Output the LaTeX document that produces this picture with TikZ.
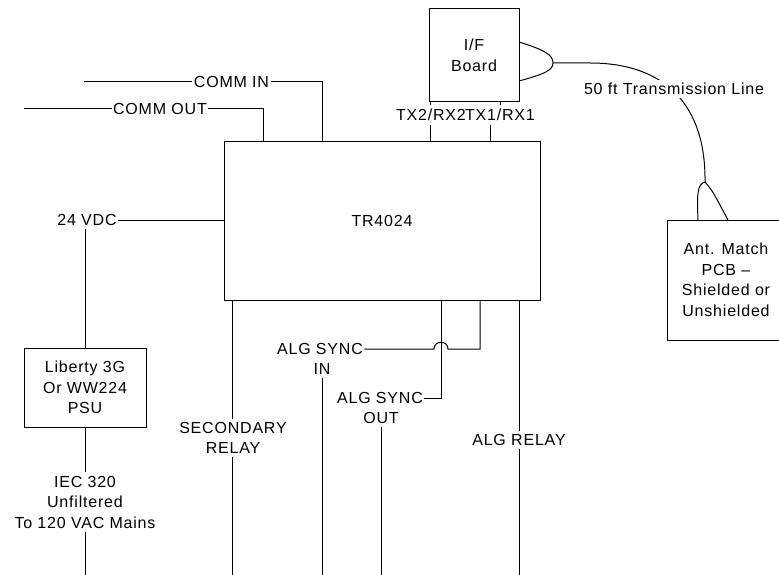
\documentclass[tikz,border=0pt]{standalone}
\usepackage{fontspec}
\setmainfont[LetterSpace=5]{Liberation Sans}
\usetikzlibrary{positioning}

\begin{document}
\begin{tikzpicture}[x=1pt,y=-1pt,line width=1pt,
  font=\fontsize{16}{20.5}\selectfont,
  blk/.style={draw,inner sep=0pt,align=center},
  lbl/.style={inner xsep=1pt,inner ysep=3pt,align=center}]
  \clip (0,0) rectangle (779,575);
  \fill[white] (0,0) rectangle (779,575);
  % --- boxes ---
  \node[blk,minimum width=316pt,minimum height=158pt] (tr) at (382,221) {TR4024};
  \node[blk,minimum width=90pt,minimum height=93pt] (ifb) at (474,55.5) {I/F\\Board};
  \node[blk,minimum width=122pt,minimum height=79pt] (psu) at (85,387.5) {Liberty 3G\\Or WW224\\PSU};
  \node[blk,minimum width=118pt,minimum height=120pt] (ant) at (726,280) {Ant. Match\\PCB --\\Shielded or\\Unshielded};
  % --- comm in / out ---
  \coordinate (cin-end) at (84,82);
  \coordinate (cout-end) at (24,109);
  \coordinate (tr-cin) at (322,142);
  \coordinate (tr-cout) at (263,142);
  \node[lbl] (cin) at (231.5,82) {COMM IN};
  \node[lbl] (cout) at (160,109) {COMM OUT};
  \draw (cin-end) -- (cin.west);
  \draw (cin.east) -| (tr-cin);
  \draw (cout-end) -- (cout.west);
  \draw (cout.east) -| (tr-cout);
  % --- supply ---
  \node[lbl] (vdc) at (87,220) {24 VDC};
  \draw (vdc.east) -- (vdc.east -| tr.west);
  \draw (psu.north) -- (psu.north |- vdc.south);
  \node[lbl] (iec) at (85,502) {IEC 320\\Unfiltered\\To 120 VAC Mains};
  \coordinate (mains) at (85,575);
  \draw (psu.south) -- (iec.north);
  \draw (iec.south) -- (mains);
  % --- TX/RX ports ---
  \node[lbl,inner xsep=0pt,inner ysep=4pt] (tx2) at (431,115) {TX2/RX2};
  \node[lbl,inner xsep=0pt,inner ysep=4pt] (tx1) at (500,115) {TX1/RX1};
  \coordinate (ifb-p2) at (430,102);
  \coordinate (ifb-p1) at (500,102);
  \coordinate (tr-p2) at (430,142);
  \coordinate (tr-p1) at (490,142);
  \draw (ifb-p2) -- (ifb-p2 |- tx2.north);
  \draw (ifb-p1) -- (ifb-p1 |- tx1.north);
  \draw (tr-p2 |- tx2.south) -- (tr-p2);
  \draw (tr-p1 |- tx1.south) -- (tr-p1);
  % --- transmission line ---
  \coordinate (ifb-hi) at (519,42);
  \coordinate (ifb-lo) at (519,81);
  \coordinate (tl-j) at (553,63);
  \coordinate (tl-s) at (590,63);
  \coordinate (ant-j) at (705,182);
  \coordinate (ant-l) at (698,220);
  \coordinate (ant-r) at (728,220);
  \draw (ifb-hi) .. controls (545,50) and (553,55) .. (tl-j);
  \draw (ifb-lo) .. controls (545,74) and (553,70) .. (tl-j);
  \draw (tl-j) -- (tl-s) .. controls (665,63) and (706,105) .. (ant-j);
  \draw (ant-j) .. controls (697,184) and (697,195) .. (ant-l);
  \draw (ant-j) .. controls (712,190) .. (ant-r);
  \node[lbl,fill=white] (tl) at (674,89) {50 ft Transmission Line};
  % --- relays and sync ---
  \coordinate (tr-sec) at (232,300);
  \coordinate (sec-end) at (232,575);
  \node[lbl] (sec) at (233,438) {SECONDARY\\RELAY};
  \draw (tr-sec) -- (tr-sec |- sec.north);
  \draw (sec-end |- sec.south) -- (sec-end);
  \coordinate (tr-asi) at (480,300);
  \coordinate (hop-a) at (434,349);
  \coordinate (hop-b) at (448,349);
  \coordinate (asi-end) at (322,575);
  \node[lbl] (asi) at (320,349) {ALG SYNC};
  \node[lbl] (asi2) at (322,369) {IN};
  \draw (asi.east) -- (hop-a) .. controls (434,340) and (448,340) .. (hop-b) -| (tr-asi);
  \draw (asi2.south) -- (asi-end);
  \coordinate (tr-aso) at (441,300);
  \coordinate (aso-end) at (381,575);
  \node[lbl] (aso) at (380,398) {ALG SYNC};
  \node[lbl] (aso2) at (381,418) {OUT};
  \draw (aso.east) -| (tr-aso);
  \draw (aso2.south) -- (aso-end);
  \coordinate (tr-rel) at (519,300);
  \coordinate (rel-end) at (519,575);
  \node[lbl] (rel) at (519,440) {ALG RELAY};
  \draw (tr-rel) -- (rel.north);
  \draw (rel.south) -- (rel-end);
\end{tikzpicture}
\end{document}
